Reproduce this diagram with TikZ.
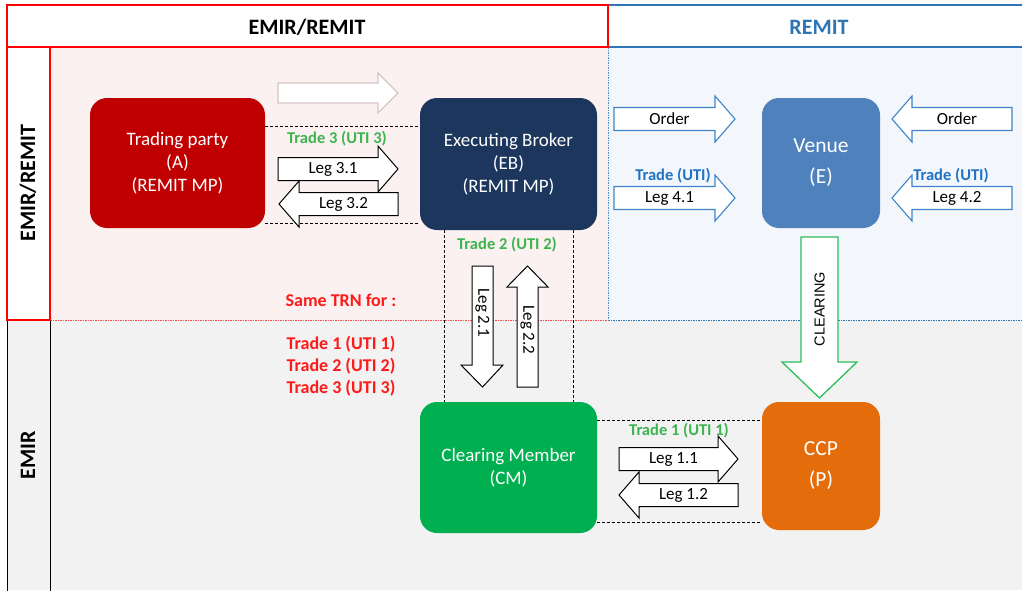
\documentclass[tikz,border=0pt]{standalone}
\usepackage{fontspec}
\setmainfont{Carlito}
\newfontfamily\arialf{Liberation Sans}
\definecolor{pinkbg}{HTML}{FBF1F1}
\definecolor{bluebg}{HTML}{F3F7FC}
\definecolor{graybg}{HTML}{F2F2F2}
\definecolor{hblue}{HTML}{2E75B6}
\definecolor{tpred}{HTML}{C00000}
\definecolor{ebnavy}{HTML}{1C365E}
\definecolor{venueblue}{HTML}{4F81BD}
\definecolor{cmgreen}{HTML}{00B050}
\definecolor{ccporange}{HTML}{E46C0A}
\definecolor{tgreen}{HTML}{3DB54F}
\definecolor{tblue}{HTML}{1F72C4}
\definecolor{tred}{HTML}{FF1A1A}
\definecolor{faded}{HTML}{D9C4C4}
\definecolor{arrblue}{HTML}{3F84C8}
\definecolor{clrgreen}{HTML}{2DBE5A}
\newcommand\RArrow[6]{%
  \draw[#1] (#3,#5-11.5) -- (#4-20,#5-11.5) -- (#4-20,#5-23) -- (#4,#5) -- (#4-20,#5+23) -- (#4-20,#5+11.5) -- (#3,#5+11.5) -- cycle;
  \node[leglabel] (#2) at ({(#3+#4)/2-5},#5) {#6};}
\newcommand\LArrow[6]{%
  \draw[#1] (#3,#5-11.5) -- (#4+20,#5-11.5) -- (#4+20,#5-23) -- (#4,#5) -- (#4+20,#5+23) -- (#4+20,#5+11.5) -- (#3,#5+11.5) -- cycle;
  \node[leglabel] (#2) at ({(#3+#4)/2+5},#5) {#6};}
\begin{document}
\begin{tikzpicture}[x=1pt,y=-1pt,
  party/.style={rounded corners=17pt, text=white, align=center, inner sep=0pt},
  bigtext/.style={font=\fontsize{19}{23}\selectfont},
  hugetext/.style={font=\fontsize{21.5}{31}\selectfont},
  dashline/.style={black, line width=0.9pt, dash pattern=on 3pt off 2pt},
  leglabel/.style={font=\fontsize{17}{19}\selectfont, inner sep=0pt},
  legarrow/.style={draw=black, fill=white, line width=1pt, line join=miter},
  bluearrow/.style={draw=arrblue, fill=white, line width=1.1pt},
  fadedarrow/.style={draw=faded, fill=white, line width=1.1pt},
  tradelabel/.style={font=\bfseries\fontsize{16.5}{19}\selectfont, inner sep=0pt},
  headtext/.style={font=\bfseries\fontsize{22}{25}\selectfont, inner sep=0pt}]
\useasboundingbox (0,0) rectangle (1022,590);
\fill[white] (0,0) rectangle (1022,590);
% background regions
\fill[pinkbg] (50,47) rectangle (608,320);
\fill[bluebg] (608,47) rectangle (1022,320);
\fill[graybg] (50,320) rectangle (1022,590);
\fill[graybg] (7,320) rectangle (50,590);
% separators
\draw[red!70, line width=0.8pt, dash pattern=on 1.5pt off 1pt] (50,320) -- (608,320);
\draw[hblue, line width=0.8pt, dash pattern=on 1.5pt off 1pt] (608,320) -- (1022,320);
\draw[hblue!80, line width=0.8pt, dash pattern=on 1.5pt off 1pt] (608,47) -- (608,320);
% frames
\draw[black, line width=1pt] (7,320) rectangle (50,592);
\draw[red, line width=1.3pt] (7,47) rectangle (50,320);
\draw[hblue, line width=1.4pt] (608,5) -- (1023,5);
\draw[hblue, line width=1.4pt] (608,47) -- (1023,47);
\draw[red, line width=1.4pt] (7,5) rectangle (608,47);
% headers
\node[headtext] (h1) at (307,27) {EMIR/REMIT};
\node[headtext, text=hblue] (h2) at (819,27) {REMIT};
\node[headtext, rotate=90] (v1) at (28,183) {EMIR/REMIT};
\node[headtext, rotate=90] (v2) at (28,455) {EMIR};
% parties
\node[party, bigtext, fill=tpred, minimum width=175pt, minimum height=130pt] (tp) at (177.5,163) {Trading party\\(A)\\(REMIT MP)};
\node[party, bigtext, fill=ebnavy, minimum width=177pt, minimum height=132pt] (eb) at (508.5,164) {Executing Broker\\(EB)\\(REMIT MP)};
\node[party, hugetext, fill=venueblue, minimum width=118pt, minimum height=130pt] (venue) at (821,163) {Venue\\(E)};
\node[party, bigtext, fill=cmgreen, minimum width=177pt, minimum height=131pt] (cm) at (508.5,467.5) {Clearing Member\\(CM)};
\node[party, hugetext, fill=ccporange, minimum width=118pt, minimum height=128pt] (ccp) at (821,466) {CCP\\(P)};
% dashed trade frames
\draw[dashline] (tp.east |- 0,126) -- (eb.west |- 0,126);
\draw[dashline] (tp.east |- 0,223) -- (eb.west |- 0,223);
\draw[dashline] (eb.south -| 444,0) -- (cm.north -| 444,0);
\draw[dashline] (eb.south -| 573,0) -- (cm.north -| 573,0);
\draw[dashline] (cm.east |- 0,420) -- (ccp.west |- 0,420);
\draw[dashline] (cm.east |- 0,522) -- (ccp.west |- 0,522);
% faded arrow
\draw[fadedarrow] (278,83) -- (378,83) -- (378,73) -- (398,93) -- (378,113) -- (378,103) -- (278,103) -- cycle;
% trade 3 legs
\node[tradelabel, text=tgreen] (t3) at (337,139) {Trade 3 (UTI 3)};
\RArrow{legarrow}{l31}{278}{398}{169}{Leg 3.1}
\LArrow{legarrow}{l32}{398}{279}{204}{Leg 3.2}
% venue arrows
\RArrow{bluearrow}{o1}{614}{735}{119}{Order}
\RArrow{bluearrow}{l41}{614}{735}{198}{Leg 4.1}
\LArrow{bluearrow}{o2}{1012}{892}{119}{Order}
\LArrow{bluearrow}{l42}{1012}{892}{198}{Leg 4.2}
\node[tradelabel, text=tblue] (tu1) at (673,176) {Trade (UTI)};
\node[tradelabel, text=tblue] (tu2) at (951,176) {Trade (UTI)};
% trade 2 legs
\node[tradelabel, text=tgreen] (t2) at (507,245) {Trade 2 (UTI 2)};
\draw[legarrow] (472,266) -- (493,266) -- (493,365) -- (503,365) -- (482.5,387) -- (461,365) -- (472,365) -- cycle;
\node[leglabel, rotate=-90] (l21) at (482.5,313) {Leg 2.1};
\draw[legarrow] (517,387) -- (538,387) -- (538,287) -- (548,287) -- (527.5,266) -- (507,287) -- (517,287) -- cycle;
\node[leglabel, rotate=-90] (l22) at (527.5,330) {Leg 2.2};
% clearing arrow
\draw[draw=clrgreen, fill=white, line width=1.3pt] (801,237) -- (838,237) -- (838,362) -- (857,362) -- (819.5,398) -- (782,362) -- (801,362) -- cycle;
\node[font=\arialf\fontsize{14.5}{16}\selectfont, rotate=90, inner sep=0pt] (clr) at (819.5,309) {CLEARING};
% trade 1 legs
\node[tradelabel, text=tgreen] (t1) at (679,431) {Trade 1 (UTI 1)};
\RArrow{legarrow}{l11}{619}{738}{459}{Leg 1.1}
\LArrow{legarrow}{l12}{738}{619}{495}{Leg 1.2}
% same TRN
\node[font=\bfseries\fontsize{18}{22}\selectfont, text=tred, inner sep=0pt] (trn) at (341,300) {Same TRN for :};
\node[font=\bfseries\fontsize{18}{22}\selectfont, text=tred, align=left, inner sep=0pt] (trades) at (341,366) {Trade 1 (UTI 1)\\Trade 2 (UTI 2)\\Trade 3 (UTI 3)};
\end{tikzpicture}
\end{document}
